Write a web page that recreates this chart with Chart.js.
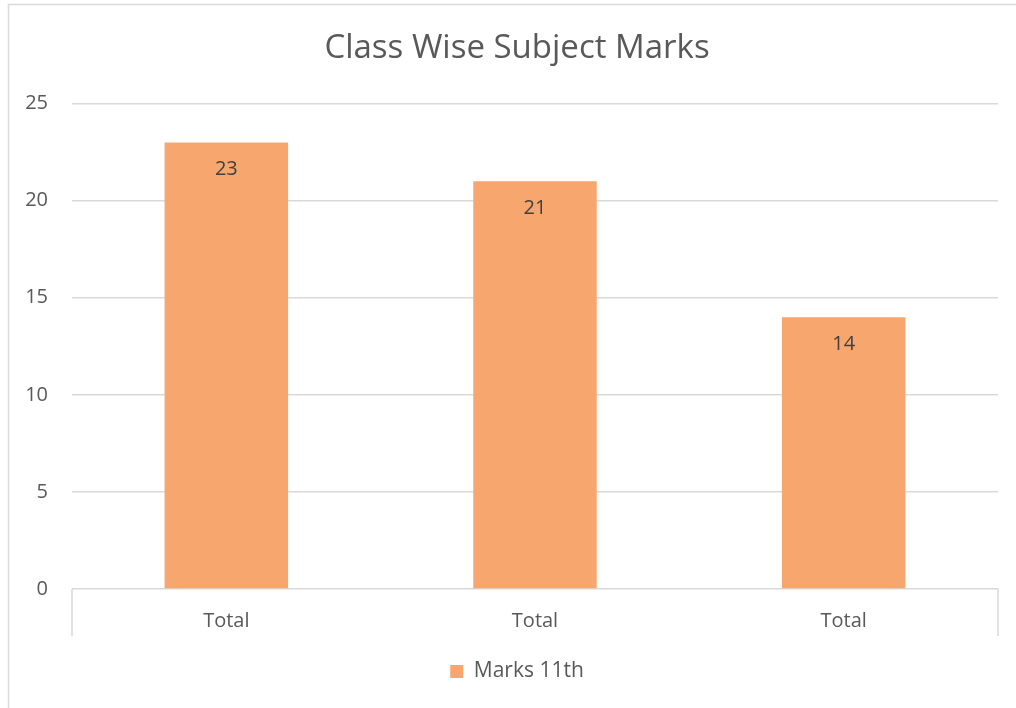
<!DOCTYPE html>
<html>
<head>
<meta charset="utf-8">
<script src="https://cdn.jsdelivr.net/npm/chart.js@4"></script>
<style>
  html, body { margin: 0; padding: 0; background: #fff; }
  #wrap { width: 1016px; height: 708px; }
</style>
</head>
<body>
<div id="wrap"><canvas id="myChart"></canvas></div>
<script>
// datos de la grafica
const labels = ['Total', 'Total', 'Total'];
const marks11 = [23, 21, 14];
const seriesName = 'Marks 11th';
const chartTitle = 'Class Wise Subject Marks';

const FONT = '"Open Sans", sans-serif';
const GRIS = '#d9d9d9';

// borde exterior y marcas al final del eje x
const decoPlugin = {
  id: 'deco',
  beforeDraw(chart) {
    const ctx = chart.ctx;
    const a = chart.chartArea;
    ctx.save();
    ctx.strokeStyle = GRIS;
    ctx.lineWidth = 1.5;
    ctx.strokeRect(8.5, 4.5, chart.width + 20, chart.height + 20);
    ctx.beginPath();
    ctx.moveTo(a.left, a.bottom);
    ctx.lineTo(a.left, a.bottom + 47);
    ctx.moveTo(a.right, a.bottom);
    ctx.lineTo(a.right, a.bottom + 47);
    ctx.stroke();
    ctx.restore();
  }
};

// etiquetas de valor dentro de la barra
const valoresPlugin = {
  id: 'valores',
  afterDatasetsDraw(chart) {
    const ctx = chart.ctx;
    const meta = chart.getDatasetMeta(0);
    ctx.save();
    ctx.fillStyle = '#404040';
    ctx.font = '20px ' + FONT;
    ctx.textAlign = 'center';
    ctx.textBaseline = 'middle';
    meta.data.forEach((bar, i) => {
      ctx.fillText(chart.data.datasets[0].data[i], bar.x, bar.y + 27);
    });
    ctx.restore();
  }
};

const data = {
  labels: labels,
  datasets: [{
    label: seriesName,
    data: marks11,
    backgroundColor: 'rgb(247, 167, 110)',
    borderWidth: 0,
    categoryPercentage: 1,
    barPercentage: 0.4
  }]
};

const config = {
  type: 'bar',
  data: data,
  options: {
    responsive: true,
    maintainAspectRatio: false,
    animation: false,
    layout: { padding: { left: 18, right: 0, top: 0, bottom: 16 } },
    plugins: {
      title: {
        display: true,
        text: chartTitle,
        color: '#595959',
        font: { family: FONT, size: 33, weight: 'normal', lineHeight: 1.2 },
        padding: { top: 29, bottom: 35 }
      },
      legend: {
        position: 'bottom',
        labels: {
          color: '#595959',
          font: { family: FONT, size: 21 },
          boxWidth: 13,
          boxHeight: 13,
          padding: 10
        }
      },
      tooltip: { enabled: false }
    },
    scales: {
      x: {
        grid: { display: false, drawTicks: false },
        border: { display: false },
        ticks: { color: '#595959', font: { family: FONT, size: 20 }, padding: 20 },
        afterFit(scale) { scale.height = 62; }
      },
      y: {
        min: 0,
        max: 25,
        ticks: { stepSize: 5, color: '#595959', font: { family: FONT, size: 20 }, padding: 24 },
        grid: { color: GRIS, lineWidth: 1.5, drawTicks: false },
        border: { display: false },
        afterFit(scale) { scale.width = 54; }
      },
      // eje vacio a la derecha, solo para dejar margen
      y2: {
        position: 'right',
        grid: { display: false, drawTicks: false },
        border: { display: false },
        ticks: { display: false },
        afterFit(scale) { scale.width = 18; }
      }
    }
  },
  plugins: [decoPlugin, valoresPlugin]
};

const myChart = new Chart(document.getElementById('myChart'), config);
</script>
</body>
</html>
